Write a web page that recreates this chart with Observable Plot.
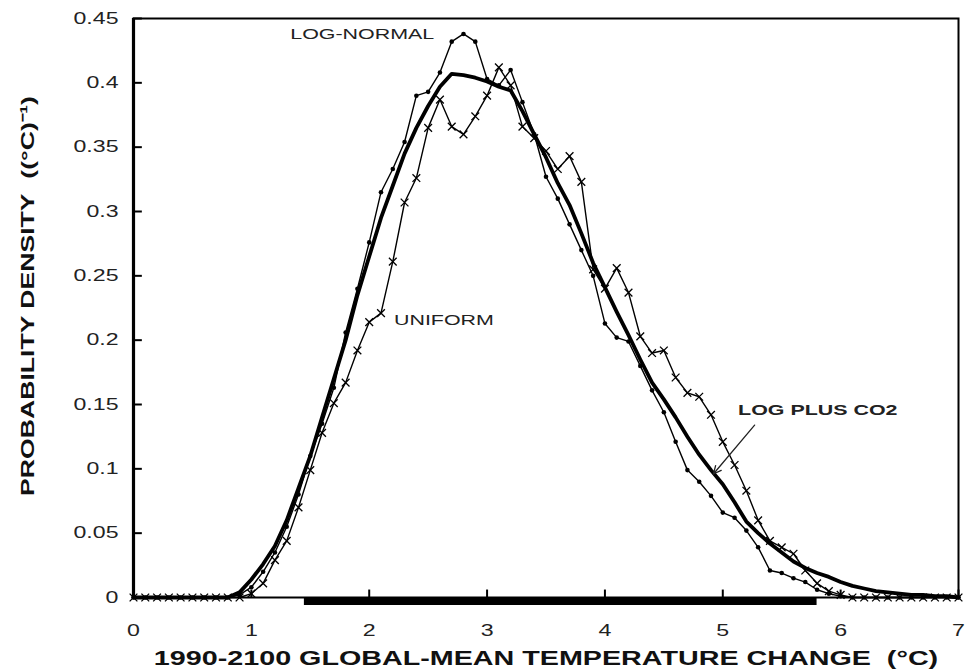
<!DOCTYPE html>
<html>
<head>
<meta charset="utf-8">
<script src="https://cdn.jsdelivr.net/npm/d3@7"></script>
<script src="https://cdn.jsdelivr.net/npm/@observablehq/plot@0.6"></script>
<style>
  html, body { margin: 0; padding: 0; background: #fff; }
  #chart { width: 965px; height: 672px; }
</style>
</head>
<body>
<div id="chart"></div>
<script>
// ---------- data ----------
const tempChange = [
  0.0,0.1,0.2,0.3,0.4,0.5,0.6,0.7,0.8,0.9,
  1.0,1.1,1.2,1.3,1.4,1.5,1.6,1.7,1.8,1.9,
  2.0,2.1,2.2,2.3,2.4,2.5,2.6,2.7,2.8,2.9,
  3.0,3.1,3.2,3.3,3.4,3.5,3.6,3.7,3.8,3.9,
  4.0,4.1,4.2,4.3,4.4,4.5,4.6,4.7,4.8,4.9,
  5.0,5.1,5.2,5.3,5.4,5.5,5.6,5.7,5.8,5.9,
  6.0,6.1,6.2,6.3,6.4,6.5,6.6,6.7,6.8,6.9,
  7.0
];
const logNormal = [
  0,0,0,0,0,0,0,0,0,0.002,
  0.008,0.02,0.035,0.055,0.08,0.11,0.135,0.163,0.206,0.24,
  0.276,0.315,0.333,0.354,0.39,0.393,0.408,0.432,0.438,0.432,
  0.403,0.398,0.41,0.385,0.36,0.327,0.31,0.29,0.27,0.25,
  0.213,0.202,0.199,0.18,0.161,0.144,0.121,0.099,0.09,0.079,
  0.066,0.062,0.052,0.039,0.021,0.019,0.015,0.012,0.006,0.003,
  0.001,0,0,0,0,0,0,0,0,0,
  0
];
const uniform = [
  0,0,0,0,0,0,0,0,0,0,
  0.003,0.011,0.029,0.044,0.07,0.099,0.128,0.151,0.167,0.192,
  0.214,0.221,0.261,0.307,0.326,0.365,0.387,0.366,0.36,0.374,
  0.39,0.412,0.398,0.366,0.357,0.347,0.333,0.343,0.323,0.255,
  0.24,0.256,0.237,0.203,0.19,0.192,0.171,0.159,0.156,0.142,
  0.121,0.103,0.083,0.06,0.044,0.039,0.034,0.021,0.011,0.005,
  0.002,0,0,0,0,0,0,0,0,0,
  0
];
const logPlusCO2 = [
  0,0,0,0,0,0,0,0,0,0.004,
  0.014,0.026,0.04,0.06,0.085,0.11,0.14,0.17,0.2,0.235,
  0.265,0.295,0.32,0.345,0.365,0.382,0.397,0.407,0.406,0.404,
  0.401,0.397,0.394,0.378,0.36,0.342,0.322,0.305,0.283,0.26,
  0.241,0.222,0.204,0.185,0.167,0.154,0.14,0.125,0.111,0.099,
  0.088,0.074,0.059,0.05,0.042,0.035,0.028,0.023,0.019,0.016,
  0.012,0.009,0.007,0.005,0.004,0.003,0.002,0.002,0.001,0.001,
  0
];
const xTicks = [0,1,2,3,4,5,6,7];
const yTicks = [0,0.05,0.1,0.15,0.2,0.25,0.3,0.35,0.4,0.45];
const yTickLabels = ["0","0.05","0.1","0.15","0.2","0.25","0.3","0.35","0.4","0.45"];
const rangeBar = [1.45, 5.8];   // thick bar along the x axis (°C)
const xTitle = "1990-2100 GLOBAL-MEAN TEMPERATURE CHANGE\u00a0\u00a0(°C)";
const yTitle = "PROBABILITY DENSITY\u00a0\u00a0((°C)⁻¹)";
const thinLabels = [
  {text: "LOG-NORMAL", t: 1.33, v: 0.4375},
  {text: "UNIFORM", t: 2.21, v: 0.2157}
];
const boldLabels = [
  {text: "LOG PLUS CO2", t: 5.13, v: 0.1456}
];
const pointer = [{t1: 5.27, v1: 0.134, t2: 4.92, v2: 0.096}];

// ---------- table ----------
const rows = tempChange.map((t, i) => ({t, ln: logNormal[i], un: uniform[i], co2: logPlusCO2[i]}));

const font = "'Liberation Sans', Arial, Helvetica, sans-serif";

const chart = Plot.plot({
  width: 965,
  height: 672,
  marginLeft: 133,
  marginRight: 7,
  marginTop: 18,
  marginBottom: 75,
  style: {fontFamily: font, background: "#fff", color: "#000", overflow: "visible"},
  x: {domain: [0, 7]},
  y: {domain: [0, 0.45]},
  marks: [
    Plot.axisX({ticks: xTicks, tickSize: 0, tickPadding: 27, label: null, fontSize: 16.5, fill: "#222", tickFormat: d => String(d)}),
    Plot.axisY({ticks: yTicks, tickSize: 0, tickPadding: 15, label: null, fontSize: 16.5, fill: "#222",
      tickFormat: d => yTickLabels[yTicks.indexOf(d)]}),
    // inward tick marks
    Plot.ruleY(yTicks, {x1: 0, x2: 0.075, stroke: "#000", strokeWidth: 2}),
    Plot.ruleX(xTicks, {y1: 0, y2: 0.0058, stroke: "#000", strokeWidth: 2}),
    Plot.frame({stroke: "#000", strokeWidth: 2}),
    Plot.ruleX([0], {stroke: "#000", strokeWidth: 3.2}),
    // range bar
    Plot.ruleY([0], {x1: rangeBar[0], x2: rangeBar[1], dy: 4, stroke: "#000", strokeWidth: 7}),
    // series
    Plot.line(rows, {x: "t", y: "ln", stroke: "#000", strokeWidth: 1.4}),
    Plot.dot(rows, {x: "t", y: "ln", r: 2.3, fill: "#000", stroke: null}),
    Plot.line(rows, {x: "t", y: "un", stroke: "#000", strokeWidth: 1.4}),
    Plot.dot(rows, {x: "t", y: "un", symbol: "times", r: 3.6, stroke: "#000", strokeWidth: 1.3}),
    Plot.line(rows, {x: "t", y: "co2", stroke: "#000", strokeWidth: 3.8}),
    // annotations
    Plot.text(thinLabels, {x: "t", y: "v", text: "text", textAnchor: "start", fontSize: 15.3,
      fontWeight: "normal", fill: "#222", fontFamily: font}),
    Plot.text(boldLabels, {x: "t", y: "v", text: "text", textAnchor: "start", fontSize: 15.3,
      fontWeight: "bold", fill: "#222", fontFamily: font}),
    Plot.arrow(pointer, {x1: "t1", y1: "v1", x2: "t2", y2: "v2", stroke: "#222", strokeWidth: 1.3, headLength: 10, headAngle: 50}),
    // axis titles
    Plot.text([xTitle], {frameAnchor: "bottom", textAnchor: "middle", lineAnchor: "middle", dy: 61,
      fontSize: 20.5, fontWeight: "bold", fill: "#111", fontFamily: font}),
    Plot.text([yTitle], {frameAnchor: "left", rotate: -90, textAnchor: "middle", lineAnchor: "middle", dx: -106, dy: -12,
      fontSize: 19, fontWeight: "bold", fill: "#111", fontFamily: font})
  ]
});

document.getElementById("chart").append(chart);

// the reference typeface is a wide grotesque: widen glyphs along the baseline
chart.querySelectorAll("text").forEach(t => {
  const len = t.getComputedTextLength();
  if (len > 0) {
    t.setAttribute("textLength", (len * 1.4).toFixed(1));
    t.setAttribute("lengthAdjust", "spacingAndGlyphs");
  }
});
</script>
</body>
</html>
